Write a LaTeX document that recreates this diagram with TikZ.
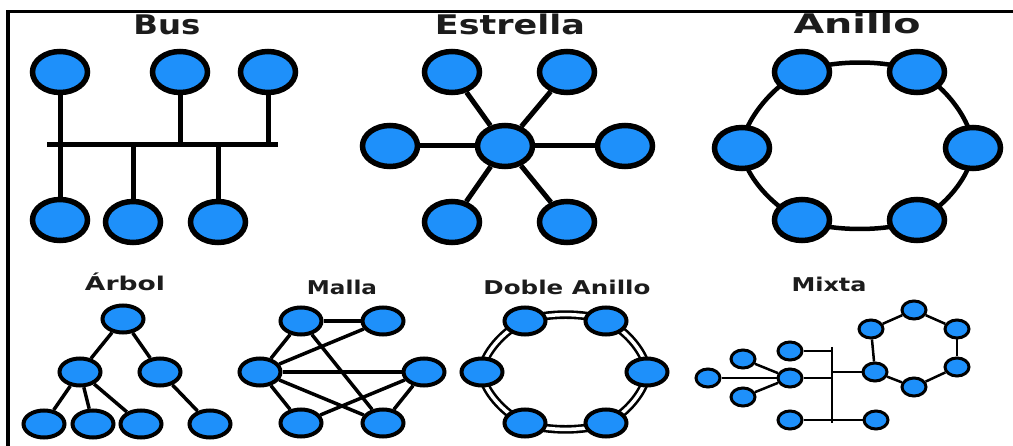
\documentclass[tikz,border=0pt]{standalone}
\usepackage{fontspec}
\setmainfont{DejaVu Sans}
\usepackage{graphicx}
\usetikzlibrary{shapes.geometric}
\pgfdeclarelayer{bg}
\pgfsetlayers{bg,main}
\definecolor{hostblue}{RGB}{30,144,250}
\definecolor{ink}{RGB}{28,28,28}
% title: width, font size, text
\newcommand{\ttl}[3]{\resizebox{#1pt}{\height}{\fontsize{#2}{#2}\selectfont\bfseries #3}}
\begin{document}
\begin{tikzpicture}[x=1pt,y=-1pt,
  hostL/.style={ellipse, draw=black, fill=hostblue, line width=5.5, minimum width=55, minimum height=41, inner sep=0},
  hostM/.style={ellipse, draw=black, fill=hostblue, line width=4, minimum width=41, minimum height=27, inner sep=0},
  hostS/.style={ellipse, draw=black, fill=hostblue, line width=3, minimum width=24, minimum height=18, inner sep=0},
  wireL/.style={draw=black, line width=5},
  wireM/.style={draw=black, line width=3.5},
  wireS/.style={draw=black, line width=2.5},
  dblring/.style={draw=black, line width=2.6, double=white, double distance=3.5},
  caption/.style={anchor=base, inner sep=0, text=ink}]
\useasboundingbox (0,0) rectangle (1013,446);
\begin{pgfonlayer}{bg}
\fill[white] (0,0) rectangle (1013,446);
\end{pgfonlayer}
% frame
\draw[line width=3.5] (8,446) -- (8,11.5) -- (1013,11.5);

% ---------- Bus ----------
\node[caption] (tbus) at (167,35) {\ttl{67}{27}{Bus}};
\node[hostL] (b1) at (60,72) {};
\node[hostL] (b2) at (180,72) {};
\node[hostL] (b3) at (268,72) {};
\node[hostL] (b4) at (60,220) {};
\node[hostL] (b5) at (133,222) {};
\node[hostL] (b6) at (218,222) {};
\coordinate (busL) at (47,145);
\coordinate (busR) at (278,145);
\draw[wireL] (busL) -- (busR);
\foreach \h in {b1,b2,b3,b4,b5,b6}
  \draw[wireL] (\h) -- (\h |- busL);

% ---------- Estrella ----------
\node[caption] (test) at (510,35) {\ttl{150}{27}{Estrella}};
\node[hostL] (s0) at (505,146) {};
\node[hostL] (s1) at (452,72) {};
\node[hostL] (s2) at (567,72) {};
\node[hostL] (s3) at (390,146) {};
\node[hostL] (s4) at (625,146) {};
\node[hostL] (s5) at (452,222) {};
\node[hostL] (s6) at (567,222) {};
\foreach \h in {s1,s2,s3,s4,s5,s6}
  \draw[wireL] (s0) -- (\h);

% ---------- Anillo ----------
\node[caption] (tani) at (857,34) {\ttl{127}{27}{Anillo}};
\node[hostL] (a1) at (802,72) {};
\node[hostL] (a2) at (917,72) {};
\node[hostL] (a3) at (973,148) {};
\node[hostL] (a4) at (917,220) {};
\node[hostL] (a5) at (802,220) {};
\node[hostL] (a6) at (742,148) {};
\begin{pgfonlayer}{bg}
\draw[line width=4.5] plot[smooth cycle, tension=0.6] coordinates {(a1) (a2) (a3) (a4) (a5) (a6)};
\end{pgfonlayer}

% ---------- Árbol ----------
\node[caption] (tarb) at (125,291) {\ttl{80}{19}{Árbol}};
\node[hostM] (t1) at (123,319) {};
\node[hostM] (t2) at (80,372) {};
\node[hostM] (t3) at (160,372) {};
\node[hostM] (t4) at (44,424) {};
\node[hostM] (t5) at (93,424) {};
\node[hostM] (t6) at (141,424) {};
\node[hostM] (t7) at (210,424) {};
\draw[wireM] (t1) -- (t2);
\draw[wireM] (t1) -- (t3);
\draw[wireM] (t2) -- (t4);
\draw[wireM] (t2) -- (t5);
\draw[wireM] (t2) -- (t6);
\draw[wireM] (t3) -- (t7);

% ---------- Malla ----------
\node[caption] (tmal) at (342,295) {\ttl{70}{19}{Malla}};
\node[hostM] (m1) at (301,321) {};
\node[hostM] (m2) at (383,321) {};
\node[hostM] (m3) at (260,372) {};
\node[hostM] (m4) at (424,372) {};
\node[hostM] (m5) at (301,423) {};
\node[hostM] (m6) at (383,423) {};
\draw[wireM] (m1) -- (m2);
\draw[wireM] (m1) -- (m3);
\draw[wireM] (m1) -- (m6);
\draw[wireM] (m3) -- (m2);
\draw[wireM] (m3) -- (m4);
\draw[wireM] (m3) -- (m5);
\draw[wireM] (m3) -- (m6);
\draw[wireM] (m5) -- (m4);
\draw[wireM] (m4) -- (m6);

% ---------- Doble Anillo ----------
\node[caption] (tdob) at (567,295) {\ttl{167}{19}{Doble Anillo}};
\node[hostM] (d1) at (525,321) {};
\node[hostM] (d2) at (606,321) {};
\node[hostM] (d3) at (647,372) {};
\node[hostM] (d4) at (606,423) {};
\node[hostM] (d5) at (525,423) {};
\node[hostM] (d6) at (482,372) {};
\begin{pgfonlayer}{bg}
\draw[dblring] plot[smooth cycle, tension=0.6] coordinates {(d1) (d2) (d3) (d4) (d5) (d6)};
\end{pgfonlayer}

% ---------- Mixta ----------
\node[caption] (tmix) at (829,292) {\ttl{75}{19}{Mixta}};
\node[hostS] (x1) at (708,378) {};
\node[hostS] (x2) at (743,359) {};
\node[hostS] (x3) at (743,397) {};
\node[hostS] (x4) at (790,378) {};
\node[hostS] (x5) at (790,351) {};
\node[hostS] (x6) at (790,420) {};
\node[hostS] (x7) at (876,420) {};
\node[hostS] (r1) at (875,372) {};
\node[hostS] (r2) at (871,329) {};
\node[hostS] (r3) at (914,310) {};
\node[hostS] (r4) at (957,329) {};
\node[hostS] (r5) at (957,367) {};
\node[hostS] (r6) at (914,387) {};
\coordinate (vtop) at (832,347);
\coordinate (vbot) at (832,423);
\draw[wireS] (vtop) -- (vbot);
\draw[wireS] (x1) -- (x4);
\draw[wireS] (x2) -- (x4);
\draw[wireS] (x3) -- (x4);
\draw[wireS] (x5) -- (x5 -| vtop);
\draw[wireS] (x4) -- (x4 -| vtop);
\draw[wireS] (x6) -- (x7);
\draw[wireS] (r1) -- (r1 -| vtop);
\draw[wireS] (r1) -- (r2);
\draw[wireS] (r2) -- (r3);
\draw[wireS] (r3) -- (r4);
\draw[wireS] (r4) -- (r5);
\draw[wireS] (r5) -- (r6);
\draw[wireS] (r6) -- (r1);
\end{tikzpicture}
\end{document}
